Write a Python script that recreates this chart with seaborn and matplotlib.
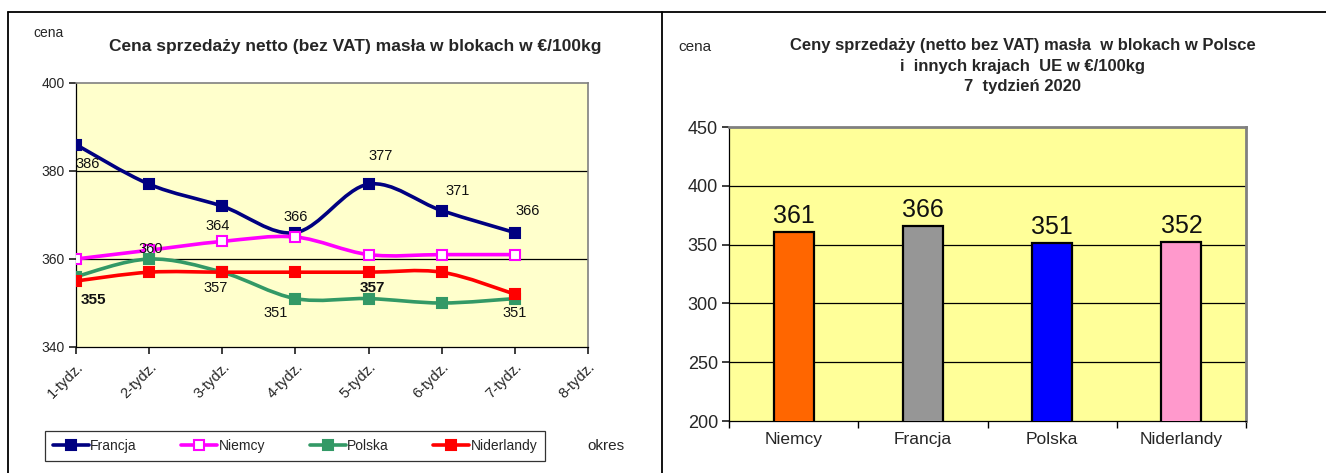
import numpy as np
import pandas as pd
import matplotlib
matplotlib.use("Agg")
import matplotlib.pyplot as plt
from matplotlib.path import Path
from matplotlib.patches import PathPatch
from matplotlib.lines import Line2D
import seaborn as sns

# ── data ────────────────────────────────────────────────────────────────
weeks = ["1-tydz.", "2-tydz.", "3-tydz.", "4-tydz.", "5-tydz.", "6-tydz.", "7-tydz.", "8-tydz."]
francja = [386, 377, 372, 366, 377, 371, 366]
niemcy = [360, 362, 364, 365, 361, 361, 361]
polska = [356, 360, 357, 351, 351, 350, 351]
niderlandy = [355, 357, 357, 357, 357, 357, 352]

bar_countries = ["Niemcy", "Francja", "Polska", "Niderlandy"]
bar_values = [361, 366, 351, 352]

sns.set_theme(style="white")
plt.rcParams["font.family"] = ["Liberation Sans", "DejaVu Sans"]


def smooth_path(xs, ys):
    # Excel-style smoothed line (Catmull-Rom as cubic Bezier segments)
    pts = np.column_stack([xs, ys]).astype(float)
    n = len(pts)
    verts = [pts[0]]
    codes = [Path.MOVETO]
    for i in range(n - 1):
        p0 = pts[i - 1] if i > 0 else pts[i]
        p1, p2 = pts[i], pts[i + 1]
        p3 = pts[i + 2] if i + 2 < n else pts[i + 1]
        c1 = p1 + (p2 - p0) / 6.0
        c2 = p2 - (p3 - p1) / 6.0
        verts += [c1, c2, p2]
        codes += [Path.CURVE4] * 3
    return Path(verts, codes)


fig = plt.figure(figsize=(13.26, 4.73), dpi=100)

# ── left panel: weekly line chart ───────────────────────────────────────
ax1 = fig.add_axes([76 / 1326, 1 - 347 / 473, 512 / 1326, 264 / 473])
ax1.set_facecolor("#FFFFCC")

series = {
    "Francja": (francja, "#000080", "#000080"),
    "Niemcy": (niemcy, "#FF00FF", "white"),
    "Polska": (polska, "#339966", "#339966"),
    "Niderlandy": (niderlandy, "#FF0000", "#FF0000"),
}

rows = []
for name, (vals, _, _) in series.items():
    for i, v in enumerate(vals):
        rows.append({"week": i, "cena": v, "kraj": name})
df = pd.DataFrame(rows)

for name, (vals, col, face) in series.items():
    ax1.add_patch(PathPatch(smooth_path(np.arange(len(vals)), vals), facecolor="none",
                            edgecolor=col, lw=2.6, zorder=3, capstyle="round"))
    sub = df[df["kraj"] == name]
    sns.lineplot(data=sub, x="week", y="cena", ax=ax1, color=col, lw=0, marker="s",
                 markersize=7, markerfacecolor=face, markeredgecolor=col,
                 markeredgewidth=1.5, zorder=4, legend=False)

ax1.set_xlim(0, 7)
ax1.set_ylim(340, 400)
ax1.set_yticks([340, 360, 380, 400])
ax1.set_xticks(range(len(weeks)))
ax1.set_xticklabels(weeks, rotation=45, ha="right", rotation_mode="anchor", fontsize=10.5)
ax1.tick_params(axis="y", labelsize=10, length=5, direction="out", left=True, pad=3)
ax1.tick_params(axis="x", length=5, direction="out", bottom=True, pad=4)
ax1.set_xlabel("")
ax1.set_ylabel("")
for y in [360, 380]:
    ax1.axhline(y, color="black", lw=0.9, zorder=1)
for s in ["left", "bottom"]:
    ax1.spines[s].set_color("black")
    ax1.spines[s].set_linewidth(0.9)
for s in ["top", "right"]:
    ax1.spines[s].set_color("#808080")
    ax1.spines[s].set_linewidth(1.2)

# data labels (series, index, pixel offset, bold)
labels = [
    (francja, 0, (12, -19), False),
    (francja, 3, (0, 16), False),
    (francja, 4, (12, 28), False),
    (francja, 5, (16, 20), False),
    (francja, 6, (13, 22), False),
    (niemcy, 2, (-5, 15), False),
    (polska, 1, (2, 10), False),
    (polska, 2, (-7, -16), False),
    (polska, 3, (-20, -14), False),
    (polska, 6, (0, -14), False),
    (niderlandy, 0, (17, -19), True),
    (niderlandy, 4, (4, -16), True),
]
for vals, i, off, bold in labels:
    ax1.annotate(f"{vals[i]}", (i, vals[i]), xytext=off, textcoords="offset pixels",
                 ha="center", va="center", fontsize=11 if bold else 10.5,
                 fontweight="bold" if bold else "normal", color="#111111", zorder=5)

handles = [Line2D([], [], color=col, lw=2.6, marker="s", markersize=7,
                  markerfacecolor=face, markeredgecolor=col, markeredgewidth=1.5)
           for _, (_, col, face) in series.items()]
leg = fig.legend(handles, list(series.keys()), ncol=4, loc="center",
                 bbox_to_anchor=(295 / 1326, 1 - 446 / 473), frameon=True, fancybox=False,
                 fontsize=10, handlelength=2.6, handletextpad=0.1, columnspacing=3.2,
                 borderpad=0.55, borderaxespad=0)
leg.get_frame().set_edgecolor("black")
leg.get_frame().set_linewidth(0.9)

fig.text(355 / 1326, 1 - 47 / 473, "Cena sprzedaży netto (bez VAT) masła w blokach w €/100kg",
         ha="center", va="center", fontsize=12.5, fontweight="bold")
fig.text(48 / 1326, 1 - 33 / 473, "cena", ha="center", va="center", fontsize=10)
fig.text(606 / 1326, 1 - 446 / 473, "okres", ha="center", va="center", fontsize=11)

# ── right panel: bar chart for week 7 ───────────────────────────────────
ax2 = fig.add_axes([729 / 1326, 1 - 421 / 473, 517 / 1326, 294 / 473])
ax2.set_facecolor("#FFFF99")
bar_df = pd.DataFrame({"kraj": bar_countries, "cena": bar_values})
sns.barplot(data=bar_df, x="kraj", y="cena", hue="kraj", ax=ax2, width=0.31, saturation=1,
            palette=["#FF6600", "#969696", "#0000FF", "#FF99CC"], legend=False,
            edgecolor="black", linewidth=1.6, zorder=3)
ax2.set_ylim(200, 450)
ax2.set_xlim(-0.5, 3.5)
ax2.set_yticks([200, 250, 300, 350, 400, 450])
for y in [250, 300, 350, 400]:
    ax2.axhline(y, color="black", lw=0.9, zorder=1)
ax2.set_xticks(np.arange(-0.5, 4, 1.0), minor=True)
ax2.tick_params(axis="x", which="major", length=0, labelsize=12.5, pad=8)
ax2.tick_params(axis="x", which="minor", length=5, direction="out", bottom=True, color="black")
ax2.tick_params(axis="y", labelsize=13, length=5, direction="out", left=True, pad=3)
ax2.set_xlabel("")
ax2.set_ylabel("")
for s in ["left", "bottom"]:
    ax2.spines[s].set_color("black")
    ax2.spines[s].set_linewidth(0.9)
for s in ["top", "right"]:
    ax2.spines[s].set_color("#808080")
    ax2.spines[s].set_linewidth(2)
for i, v in enumerate(bar_values):
    ax2.annotate(f"{v}", (i, v), xytext=(0, 4), textcoords="offset pixels",
                 ha="center", va="bottom", fontsize=18, color="#111111")

fig.text(1023 / 1326, 1 - 66 / 473,
         "Ceny sprzedaży (netto bez VAT) masła  w blokach w Polsce\ni  innych krajach  UE w €/100kg\n7  tydzień 2020",
         ha="center", va="center", fontsize=12, fontweight="bold", linespacing=1.45)
fig.text(695 / 1326, 1 - 47 / 473, "cena", ha="center", va="center", fontsize=11)

# ── outer frames ────────────────────────────────────────────────────────
top = 1 - 12 / 473
for xy in [([8 / 1326, 1], [top, top]), ([8 / 1326, 8 / 1326], [0, top]),
           ([662 / 1326, 662 / 1326], [0, top])]:
    fig.add_artist(Line2D(xy[0], xy[1], color="black", lw=1.3))

fig.savefig("out.png", dpi=100)
